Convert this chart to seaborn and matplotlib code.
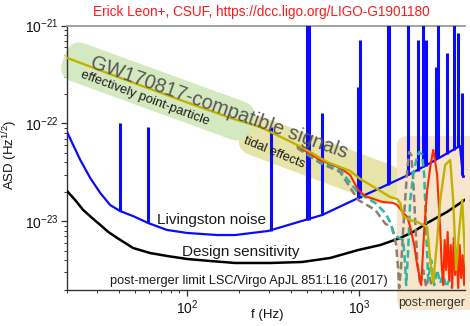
import matplotlib
matplotlib.use("Agg")
import matplotlib.pyplot as plt
from matplotlib.patches import FancyBboxPatch
from matplotlib.transforms import Affine2D
from matplotlib.ticker import NullFormatter, FixedLocator, LogFormatterSciNotation
import seaborn as sns

# Advanced LIGO design sensitivity
design_freq = [20, 22.3, 24.8, 28, 31.2, 34.7, 39.2, 43.6, 48.5, 60.9, 76.5, 100, 136, 190,
               304, 466, 678, 987, 1325, 1731, 2061, 2485, 3248, 4190]
design_asd = [2.04e-23, 1.65e-23, 1.31e-23, 1.08e-23, 9.2e-24, 7.8e-24, 6.75e-24, 6.0e-24,
              5.33e-24, 4.74e-24, 4.42e-24, 4.12e-24, 3.93e-24, 3.75e-24, 3.75e-24, 3.84e-24,
              4.22e-24, 5.09e-24, 5.72e-24, 6.75e-24, 7.8e-24, 9.6e-24, 1.25e-23, 1.69e-23]

# Livingston broadband noise floor
livingston_freq = [20, 23.9, 27.3, 31.2, 35.6, 40.8, 48.5, 59.3, 76.5, 100, 149, 190, 295, 466,
                   609, 987, 1325, 1925, 2590, 3854, 4016, 4190]
livingston_asd = [8.18e-23, 4.23e-23, 2.77e-23, 1.95e-23, 1.47e-23, 1.27e-23, 1.13e-23, 9.6e-24,
                  8.15e-24, 7.6e-24, 7.24e-24, 7.24e-24, 7.96e-24, 1.01e-23, 1.16e-23, 1.73e-23,
                  2.19e-23, 2.97e-23, 3.94e-23, 5.89e-23, 2.84e-23, 2.9e-23]

# Narrow spectral lines (calibration, mains, violin modes ...)
line_freq = [40.8, 59.3, 308, 500, 510, 609, 987, 1013, 1474, 1490, 1927, 2203, 2355, 2452,
             2804, 2880, 3248, 3567, 3763, 3971]
line_top = [1.0e-22, 9.2e-23, 9.2e-23, 1.5e-21, 1.5e-21, 1.28e-22, 2.36e-22, 7.1e-22, 1.5e-21,
            1.5e-21, 1.5e-21, 7.1e-22, 1.5e-21, 7.1e-22, 3.8e-22, 1.5e-21, 5.2e-22, 1.5e-21,
            8.5e-22, 2.04e-22]
line_base = [1.27e-23, 9.6e-24, 8.0e-24, 1.02e-23, 1.04e-23, 1.16e-23, 1.73e-23, 1.75e-23,
             2.35e-23, 2.4e-23, 2.97e-23, 3.3e-23, 3.55e-23, 3.7e-23, 4.3e-23, 4.4e-23, 4.9e-23,
             5.4e-23, 5.7e-23, 3.0e-23]

# Waveform spectra: point-particle inspiral continued by four numerical-relativity runs
olive_freq = [20, 40.8, 91, 178, 266, 436, 519, 593, 652, 745, 886, 1013, 1273, 1514, 1663,
              1731, 1802, 1980, 2175, 2485, 2590, 2694, 2841, 2958, 3162, 3382, 3520, 3664,
              3815, 3971, 4134]
olive_asd = [4.68e-22, 2.92e-22, 1.74e-22, 1.14e-22, 9.2e-23, 6.03e-23, 5.11e-23, 4.44e-23,
             4.04e-23, 3.68e-23, 3.27e-23, 2.71e-23, 2.14e-23, 1.77e-23, 1.69e-23, 1.54e-23,
             1.13e-23, 1.03e-23, 9.84e-24, 8.75e-24, 4.02e-24, 2.34e-24, 6.44e-24, 1.65e-23,
             3.77e-23, 4.23e-23, 1.65e-23, 3.18e-24, 8.15e-24, 1.65e-23, 4.02e-24]

red_freq = [436, 593, 775, 886, 987, 1084, 1361, 1577, 1663, 1802, 1902, 1980, 2089, 2175,
            2263, 2294, 2388, 2485, 2590, 2694, 2729, 2841, 2958, 3018, 3080, 3141, 3205,
            3270, 3337, 3404, 3473, 3544, 3614, 3689, 3763, 3840, 3917, 3997, 4078, 4161]
red_asd = [5.89e-23, 4.23e-23, 3.51e-23, 2.97e-23, 2.09e-23, 1.81e-23, 1.58e-23, 1.54e-23,
           1.47e-23, 1.22e-23, 1.11e-23, 8.75e-24, 5.73e-24, 3.57e-24, 2.51e-24, 2.23e-24,
           8.15e-24, 2.09e-23, 3.59e-23, 5.36e-23, 4.77e-23, 2.97e-23, 8.15e-24, 3.57e-24,
           2.23e-24, 6.44e-24, 3.18e-24, 7.78e-24, 2.51e-24, 5.73e-24, 2.08e-24, 6.75e-24,
           2.83e-24, 5.09e-24, 2.08e-24, 5.73e-24, 2.63e-24, 4.52e-24, 2.23e-24, 4.02e-24]

teal_freq = [436, 593, 775, 987, 1084, 1239, 1416, 1514, 1577, 1663, 1802, 1851, 1876, 1927,
             1980, 2061, 2146, 2233, 2324, 2388, 2452, 2519, 2621, 2729, 2841, 2958, 3080,
             3205, 3337, 3473]
teal_asd = [5.76e-23, 4.13e-23, 3.35e-23, 1.95e-23, 1.77e-23, 1.54e-23, 1.22e-23, 9.84e-24,
            7.78e-24, 6.92e-24, 6.44e-24, 3.57e-24, 2.23e-24, 5.09e-24, 1.65e-23, 2.97e-23,
            4.23e-23, 5.11e-23, 4.77e-23, 2.97e-23, 8.15e-24, 2.51e-24, 4.02e-24, 2.23e-24,
            3.18e-24, 2.34e-24, 2.83e-24, 2.13e-24, 2.51e-24, 2.08e-24]

gray_freq = [436, 593, 775, 987, 1239, 1416, 1556, 1641, 1686, 1708, 1755, 1802, 1851, 1902,
             1954, 2006, 2061, 2117, 2175, 2263, 2355, 2452, 2553, 2658]
gray_asd = [5.62e-23, 3.94e-23, 3.19e-23, 1.65e-23, 1.31e-23, 9.5e-24, 8.54e-24, 5.73e-24,
            3.18e-24, 2.08e-24, 3.57e-24, 8.15e-24, 1.65e-23, 3.35e-23, 5.11e-23, 4.77e-23,
            2.64e-23, 1.03e-23, 4.02e-24, 2.23e-24, 3.18e-24, 2.13e-24, 2.83e-24, 2.08e-24]

x_limits = (20, 4096)
y_limits = (2e-24, 1e-21)
x_major = [1e2, 1e3]
y_major = [1e-23, 1e-22, 1e-21]

sns.set_theme(style="ticks")
plt.rcParams["font.family"] = ["Liberation Sans", "DejaVu Sans"]
plt.rcParams["mathtext.fontset"] = "custom"
plt.rcParams["mathtext.rm"] = "Liberation Sans"
plt.rcParams["mathtext.it"] = "Liberation Sans:italic"
plt.rcParams["mathtext.bf"] = "Liberation Sans:bold"

W, H = 470, 326
fig = plt.figure(figsize=(W / 100, H / 100), dpi=100)
ax = fig.add_axes([67 / W, 1 - 289.7 / H, 397.5 / W, 264.1 / H])
ax.set_xscale("log")
ax.set_yscale("log")


def fig_xy(x, y):
    """Pixel position (origin top-left) to figure fraction."""
    return x / W, 1 - y / H


def pill(cx, cy, length, thick, angle, color, z, radius):
    """Rounded band centred at pixel (cx, cy), tilted down-right by angle degrees."""
    tr = Affine2D().rotate_deg(-angle).translate(cx, H - cy)
    p = FancyBboxPatch((-length / 2, -thick / 2), length, thick,
                       boxstyle=f"round,pad=0,rounding_size={radius}",
                       transform=tr, facecolor=color, edgecolor="none",
                       zorder=z, clip_on=False)
    ax.add_artist(p)


# shaded bands
pill(320.5, 160, 168, 40, 20.5, "#e6e4a8", 1.0, 16)
pill(158, 91.5, 200, 40, 20.0, "#d5e9c0", 1.1, 16)
ax.add_artist(FancyBboxPatch((397, H - 310), 80, 174,
                             boxstyle="round,pad=0,rounding_size=10",
                             transform=Affine2D(), facecolor="#f7e5cc",
                             edgecolor="none", zorder=1.2, clip_on=False))

# detector curves
sns.lineplot(x=design_freq, y=design_asd, color="black", lw=1.8, ax=ax,
             estimator=None, sort=False, zorder=3)
sns.lineplot(x=livingston_freq, y=livingston_asd, color="#0a0aff", lw=1.6, ax=ax,
             estimator=None, sort=False, zorder=3)
ax.vlines(line_freq, line_base, line_top, colors="#0a0aff", lw=2.2, zorder=3)

# signal spectra
sns.lineplot(x=gray_freq, y=gray_asd, color="#8a8070", lw=1.8, ax=ax, estimator=None,
             sort=False, linestyle=(0, (3, 1.6)), zorder=4)
sns.lineplot(x=teal_freq, y=teal_asd, color="#2ab7a9", lw=1.8, ax=ax, estimator=None,
             sort=False, linestyle=(0, (3, 1.6)), zorder=4.1)
sns.lineplot(x=red_freq, y=red_asd, color="#ff2a00", lw=1.5, ax=ax, estimator=None,
             sort=False, zorder=4.2)
sns.lineplot(x=olive_freq, y=olive_asd, color="#c2b200", lw=1.7, ax=ax, estimator=None,
             sort=False, zorder=4.3)

ax.set_xlim(*x_limits)
ax.set_ylim(*y_limits)

# ticks: only the decades inside the view, with in-range minor ticks
x_minor = [m * 10 ** e for e in (1, 2, 3) for m in range(2, 10)
           if x_limits[0] <= m * 10 ** e <= x_limits[1]]
y_minor = [m * 10 ** e for e in (-24, -23, -22) for m in range(2, 10)
           if y_limits[0] <= m * 10 ** e <= y_limits[1]]
ax.xaxis.set_major_locator(FixedLocator(x_major))
ax.yaxis.set_major_locator(FixedLocator(y_major))
ax.xaxis.set_minor_locator(FixedLocator(x_minor))
ax.yaxis.set_minor_locator(FixedLocator(y_minor))
ax.xaxis.set_major_formatter(LogFormatterSciNotation())
ax.yaxis.set_major_formatter(LogFormatterSciNotation())
ax.xaxis.set_minor_formatter(NullFormatter())
ax.yaxis.set_minor_formatter(NullFormatter())
ax.xaxis.offsetText.set_visible(False)
ax.yaxis.offsetText.set_visible(False)

ax.tick_params(which="major", direction="out", length=4, width=0.9, color="#333333",
               labelsize=10, labelcolor="#111111", pad=2)
ax.tick_params(which="minor", direction="out", length=2.5, width=0.7, color="#333333")
ax.tick_params(which="both", top=False, right=False)
for side in ("left", "bottom"):
    ax.spines[side].set_color("#333333")
    ax.spines[side].set_linewidth(1.0)
ax.spines["top"].set_color("#9a9a9a")
ax.spines["top"].set_linewidth(1.3)
ax.spines["right"].set_visible(False)

ax.set_ylabel("ASD (Hz$^{1/2}$)", fontsize=9.5, color="#111111")
ax.set_xlabel("f (Hz)", fontsize=9.5, color="#111111")
ax.yaxis.set_label_coords(-0.118, 0.51)
ax.xaxis.set_label_coords(0.503, -0.073)

fig.text(*fig_xy(261, 12), "Erick Leon+, CSUF, https://dcc.ligo.org/LIGO-G1901180",
         color="#ff1a1a", fontsize=9.8, ha="center", va="center")

fig.text(*fig_xy(89, 67), "GW170817-compatible signals", fontsize=14.3, color="#555555",
         rotation=-19.6, rotation_mode="anchor", ha="left", va="baseline", zorder=6)
fig.text(*fig_xy(80, 77), "effectively point-particle", fontsize=9.4, color="#1a1a1a",
         rotation=-20.5, rotation_mode="anchor", ha="left", va="baseline", zorder=6)
fig.text(*fig_xy(243, 143), "tidal effects", fontsize=9.3, color="#1a1a1a",
         rotation=-22.5, rotation_mode="anchor", ha="left", va="baseline", zorder=6)
fig.text(*fig_xy(157, 220), "Livingston noise", fontsize=11, color="#1a1a1a",
         ha="left", va="center", zorder=6)
fig.text(*fig_xy(182, 252), "Design sensitivity", fontsize=11, color="#1a1a1a",
         ha="left", va="center", zorder=6)
fig.text(*fig_xy(110, 281), "post-merger limit LSC/Virgo ApJL 851:L16 (2017)", fontsize=9.2,
         color="#1a1a1a", ha="left", va="center", zorder=6)
fig.text(*fig_xy(398, 303), "post-merger", fontsize=8.9, color="#333333",
         ha="left", va="center", zorder=6)

fig.savefig("out.png", dpi=100)
